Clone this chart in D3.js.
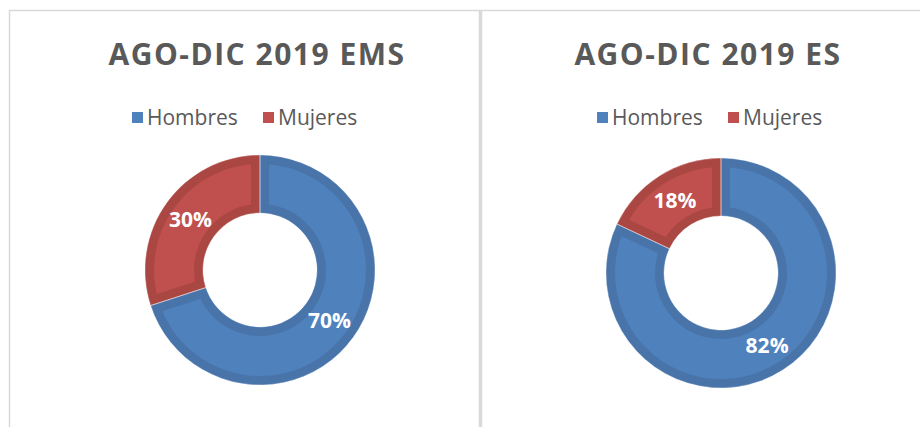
<!DOCTYPE html>
<html>
<head>
<meta charset="utf-8">
<script src="https://cdn.jsdelivr.net/npm/d3@7"></script>
<style>
  body { margin: 0; background: #fff; }
  svg { display: block; }
</style>
</head>
<body>
<script>
const W = 920, H = 427;

// data
const categories = ['Hombres', 'Mujeres'];
const titles = ['AGO-DIC 2019 EMS', 'AGO-DIC 2019 ES'];
const emsValues = [70, 30];
const esValues = [82, 18];
const fillColors = ['#4F81BD', '#C0504D'];
const edgeColors = ['#4874AA', '#AA4743'];

const charts = [
  { title: titles[0], values: emsValues, cx: 260, cy: 270, tx: 257, lx: 247 },
  { title: titles[1], values: esValues, cx: 721, cy: 273, tx: 708, lx: 712 }
];

const svg = d3.select('body').append('svg')
  .attr('width', W)
  .attr('height', H);

// panel borders
svg.append('line').attr('x1', 9).attr('x2', W).attr('y1', 10.5).attr('y2', 10.5)
  .attr('stroke', '#D9D9D9').attr('stroke-width', 1.5);
svg.append('line').attr('x1', 9.5).attr('x2', 9.5).attr('y1', 10).attr('y2', H)
  .attr('stroke', '#D9D9D9').attr('stroke-width', 1.5);
svg.append('line').attr('x1', 480.5).attr('x2', 480.5).attr('y1', 10).attr('y2', H)
  .attr('stroke', '#D9D9D9').attr('stroke-width', 3.5);

const outerR = 115, innerR = 57, edge = 9;

const pie = d3.pie().sort(null).value(d => d)
  .startAngle(0).endAngle(2 * Math.PI);
const arc = d3.arc().innerRadius(innerR).outerRadius(outerR);
const labelArc = d3.arc().innerRadius(86).outerRadius(86);

charts.forEach((c, ci) => {
  // title
  svg.append('text')
    .attr('x', c.tx)
    .attr('y', 65)
    .attr('text-anchor', 'middle')
    .style('font-family', 'Open Sans')
    .style('font-weight', 'bold')
    .style('font-size', '30px')
    .style('letter-spacing', '1.5px')
    .style('fill', '#595959')
    .text(c.title);

  // legend
  const legend = svg.append('g').attr('transform', `translate(${c.lx},0)`);
  const itemX = [-115, 16];
  categories.forEach((name, i) => {
    const g = legend.append('g').attr('transform', `translate(${itemX[i]},0)`);
    g.append('rect')
      .attr('x', 0).attr('y', 112)
      .attr('width', 11).attr('height', 11)
      .attr('fill', fillColors[i]);
    g.append('text')
      .attr('x', 15).attr('y', 125)
      .style('font-family', 'Open Sans')
      .style('font-size', '21px')
      .style('fill', '#595959')
      .text(name);
  });

  // donut
  const g = svg.append('g').attr('transform', `translate(${c.cx},${c.cy})`);
  const slices = pie(c.values);

  slices.forEach((s, i) => {
    const id = `clip-${ci}-${i}`;
    g.append('clipPath').attr('id', id)
      .append('path').attr('d', arc(s));
    g.append('path')
      .attr('d', arc(s))
      .attr('fill', fillColors[i])
      .attr('stroke', edgeColors[i])
      .attr('stroke-width', edge * 2)
      .attr('clip-path', `url(#${id})`);
  });

  // thin separators between slices
  g.selectAll('path.sep')
    .data(slices)
    .enter()
    .append('path')
    .attr('class', 'sep')
    .attr('d', d => arc(d))
    .attr('fill', 'none')
    .attr('stroke', '#ffffff')
    .attr('stroke-opacity', 0.5)
    .attr('stroke-width', 0.75);

  g.selectAll('text.lbl')
    .data(slices)
    .enter()
    .append('text')
    .attr('class', 'lbl')
    .attr('transform', d => `translate(${labelArc.centroid(d)})`)
    .attr('text-anchor', 'middle')
    .attr('dy', '0.35em')
    .style('font-family', 'Open Sans')
    .style('font-weight', 'bold')
    .style('font-size', '21px')
    .style('fill', '#ffffff')
    .text(d => d.data + '%');
});
</script>
</body>
</html>
